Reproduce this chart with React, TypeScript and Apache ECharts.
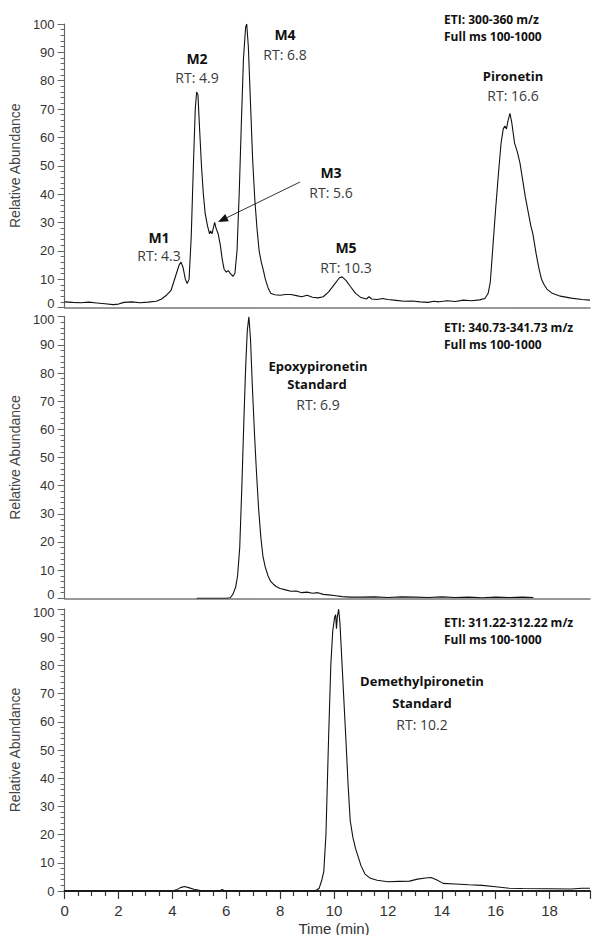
import React, { useEffect, useRef } from "react";
import * as echarts from "echarts";

// ETI 300-360 m/z trace (time in min, relative abundance)
const topTrace: [number, number][] = [
  [0, 2.0], [0.3, 1.8], [0.6, 1.7], [0.9, 1.9], [1.2, 1.6], [1.5, 1.3], [1.8, 1.0], [2.0, 1.2],
  [2.2, 1.8], [2.5, 2.0], [2.8, 1.7], [3.1, 1.9], [3.4, 2.2], [3.6, 3.0], [3.8, 4.5], [3.95, 6],
  [4.05, 9], [4.15, 12], [4.25, 15], [4.32, 16], [4.4, 14], [4.48, 10], [4.55, 8.5], [4.62, 10],
  [4.7, 25], [4.78, 50], [4.85, 70], [4.9, 76], [4.95, 75], [5.0, 65], [5.08, 50], [5.15, 40],
  [5.22, 33], [5.3, 29], [5.38, 26], [5.42, 27], [5.47, 26], [5.52, 28], [5.57, 30], [5.62, 28],
  [5.7, 26], [5.78, 22], [5.85, 17], [5.92, 13.5], [6.0, 12.5], [6.08, 13], [6.15, 12], [6.25, 11],
  [6.32, 12], [6.4, 20], [6.48, 40], [6.56, 65], [6.64, 88], [6.72, 99], [6.76, 100], [6.82, 92],
  [6.9, 72], [6.98, 52], [7.06, 38], [7.14, 28], [7.22, 20], [7.3, 16], [7.38, 13], [7.45, 10],
  [7.55, 7], [7.65, 5], [7.8, 4.5], [8.0, 4.3], [8.2, 4.6], [8.4, 4.6], [8.6, 4.2], [8.8, 3.8],
  [9.0, 4.3], [9.2, 3.6], [9.4, 3.4], [9.6, 3.8], [9.8, 5.5], [10.0, 8], [10.2, 10.5], [10.3, 10.8],
  [10.45, 9.5], [10.6, 7.5], [10.8, 5], [11.0, 3.5], [11.2, 3.0], [11.3, 3.8], [11.4, 3.0], [11.6, 2.8],
  [11.8, 3.2], [12.0, 2.8], [12.3, 2.5], [12.6, 2.2], [12.9, 2.3], [13.2, 2.0], [13.5, 1.8], [13.7, 2.2],
  [13.9, 2.0], [14.2, 2.4], [14.5, 2.1], [14.8, 2.6], [15.1, 2.4], [15.4, 2.7], [15.6, 3.2], [15.72, 5],
  [15.8, 9], [15.9, 22], [16.0, 35], [16.1, 47], [16.2, 58], [16.28, 63], [16.34, 64], [16.4, 63],
  [16.46, 66], [16.53, 68.5], [16.6, 65], [16.7, 58], [16.8, 55], [16.9, 51], [17.0, 45], [17.1, 39],
  [17.2, 34], [17.3, 29], [17.38, 26], [17.5, 19], [17.6, 14], [17.7, 10], [17.8, 8], [17.9, 6.5],
  [18.1, 5], [18.4, 4], [18.8, 3.3], [19.2, 2.8], [19.5, 2.6],
];

// ETI 340.73-341.73 m/z trace (Epoxypironetin standard)
const midTrace: [number, number][] = [
  [4.9, 0], [5.5, 0], [6.0, 0], [6.15, 0.2], [6.25, 1.5], [6.35, 4], [6.42, 8], [6.5, 18],
  [6.58, 40], [6.65, 62], [6.72, 82], [6.78, 95], [6.84, 100], [6.9, 92], [6.97, 75], [7.05, 58],
  [7.12, 45], [7.2, 32], [7.28, 22], [7.36, 15], [7.45, 11], [7.55, 8], [7.65, 6], [7.75, 5],
  [7.85, 4.2], [8.0, 3.5], [8.2, 3.0], [8.4, 2.5], [8.6, 2.6], [8.8, 2.0], [9.0, 2.2], [9.2, 1.8],
  [9.4, 2.0], [9.6, 1.4], [9.8, 1.2], [10.0, 1.0], [10.3, 0.6], [10.6, 0.4], [11.0, 0.4], [11.5, 0.5],
  [12.0, 0.3], [12.5, 0.5], [13.0, 0.4], [13.5, 0.3], [14.0, 0.5], [14.5, 0.3], [15.0, 0.4], [15.5, 0.2],
  [16.0, 0.4], [16.5, 0.3], [17.0, 0.4], [17.4, 0.3],
];

// ETI 311.22-312.22 m/z trace (Demethylpironetin standard)
const botTrace: [number, number][] = [
  [0, 0], [4.0, 0], [4.15, 0.4], [4.3, 1.2], [4.45, 1.6], [4.6, 1.2], [4.8, 0.6], [5.05, 0.2],
  [5.3, 0], [5.75, 0], [5.85, 0.5], [5.95, 0], [9.3, 0], [9.45, 1], [9.55, 4], [9.62, 7],
  [9.7, 20], [9.8, 55], [9.88, 80], [9.95, 92], [10.02, 97], [10.06, 98], [10.09, 93], [10.12, 97],
  [10.17, 100], [10.22, 95], [10.3, 80], [10.38, 65], [10.45, 52], [10.52, 38], [10.6, 25], [10.7, 19],
  [10.8, 15], [10.9, 12], [11.0, 9], [11.15, 6], [11.35, 4.5], [11.6, 3.8], [12.0, 3.3], [12.4, 3.4],
  [12.8, 3.5], [13.1, 4.2], [13.4, 4.6], [13.6, 4.8], [13.8, 4.0], [14.05, 2.7], [14.5, 2.5], [15.0, 2.2],
  [15.5, 2.0], [16.0, 1.5], [16.5, 1.0], [17.0, 0.9], [18.0, 0.8], [18.8, 0.7], [19.2, 1.0], [19.5, 1.0],
];

const xMin = 0;
const xMax = 19.5;
const yTickInterval = 10;
const xTickInterval = 2;

const scanLabels = ["ETI: 300-360 m/z", "ETI: 340.73-341.73 m/z", "ETI: 311.22-312.22 m/z"];
const scanRange = "Full ms 100-1000";

const topPeaks = [
  { name: "M1", rt: "RT: 4.3" },
  { name: "M2", rt: "RT: 4.9" },
  { name: "M3", rt: "RT: 5.6" },
  { name: "M4", rt: "RT: 6.8" },
  { name: "M5", rt: "RT: 10.3" },
  { name: "Pironetin", rt: "RT: 16.6" },
];
const midPeak = { name: ["Epoxypironetin", "Standard"], rt: "RT: 6.9" };
const botPeak = { name: ["Demethylpironetin", "Standard"], rt: "RT: 10.2" };

// layout (pixels)
const GRIDS = [
  { top: 24, height: 283.5 },
  { top: 316.7, height: 281.6 },
  { top: 609, height: 282 },
];
const LEFT = 63;
const RIGHT = 2;
const topPeakPos = [
  [159, 237, 255],
  [197, 58, 77],
  [331, 172, 192],
  [285, 34, 54],
  [346, 247, 267],
  [513, 76, 95],
];

const AXIS_FONT = "'Liberation Sans', Arial, sans-serif";
const NOTE_FONT = "'Open Sans', 'Noto Sans', sans-serif";

export default function App() {
  const ref = useRef<HTMLDivElement>(null);
  useEffect(() => {
    if (!ref.current) return;
    const chart = echarts.init(ref.current, undefined, { renderer: "svg" });

    const grids = GRIDS.map((g) => ({ left: LEFT, right: RIGHT, top: g.top, height: g.height, containLabel: false }));

    const xAxes = GRIDS.map((_, i) => ({
      type: "value",
      gridIndex: i,
      min: xMin,
      max: xMax,
      interval: xTickInterval,
      axisLine: {
        show: true,
        onZero: false,
        lineStyle: { color: i === 2 ? "#222" : "#777", width: i === 2 ? 2 : 1.5 },
      },
      axisTick: { show: i === 2, length: 8, lineStyle: { color: "#333", width: 1.2 } },
      minorTick: { show: i === 2, splitNumber: 4, length: 5, lineStyle: { color: "#333", width: 1.2 } },
      axisLabel: {
        show: i === 2,
        margin: 12,
        fontSize: 15,
        color: "#333",
        fontFamily: AXIS_FONT,
        showMaxLabel: false,
        formatter: (v: number) => (v % 2 === 0 ? String(v) : ""),
      },
      splitLine: { show: false },
    }));

    const yAxes = GRIDS.map((_, i) => ({
      type: "value",
      gridIndex: i,
      min: 0,
      max: 100,
      interval: yTickInterval,
      name: "Relative Abundance",
      nameLocation: "middle",
      nameGap: 38,
      nameTextStyle: { fontSize: 14, color: "#444", fontFamily: AXIS_FONT },
      axisLine: { show: true, lineStyle: { color: "#666", width: 1.2 } },
      axisTick: { show: true, length: 7, lineStyle: { color: "#666" } },
      minorTick: { show: true, splitNumber: 5, length: 4, lineStyle: { color: "#666" } },
      axisLabel: {
        margin: 10,
        fontSize: 13,
        color: "#333",
        fontFamily: AXIS_FONT,
        formatter: (v: number) => {
          if (v === 0 && i < 2) return "{lo|0}";
          if (v === 100 && i > 0) return "{hi|100}";
          return String(v);
        },
        rich: {
          lo: { fontSize: 13, color: "#333", fontFamily: AXIS_FONT, padding: [0, 0, 8, 0] },
          hi: { fontSize: 13, color: "#333", fontFamily: AXIS_FONT, padding: [6, 0, 0, 0] },
        },
      },
      splitLine: { show: false },
    }));

    const traces = [topTrace, midTrace, botTrace];
    const series = traces.map((d, i) => ({
      type: "line",
      xAxisIndex: i,
      yAxisIndex: i,
      data: d,
      showSymbol: false,
      symbol: "none",
      lineStyle: { color: "#111", width: 1.1 },
      silent: true,
    }));

    const bold = (text: string, x: number, y: number, size = 13) => ({
      type: "text",
      x,
      y,
      style: { text, fill: "#111", font: `bold ${size}px ${NOTE_FONT}`, align: "center", verticalAlign: "middle" },
    });
    const reg = (text: string, x: number, y: number, size = 14) => ({
      type: "text",
      x,
      y,
      style: { text, fill: "#3a3a3a", font: `${size}px ${NOTE_FONT}`, align: "center", verticalAlign: "middle" },
    });
    const eti = (text: string, y: number) => ({
      type: "text",
      x: 444,
      y,
      style: { text, fill: "#111", font: `bold 12px ${NOTE_FONT}`, align: "left", verticalAlign: "middle" },
    });

    const graphics: any[] = [];
    topPeaks.forEach((p, i) => {
      const [x, yn, yr] = topPeakPos[i];
      graphics.push(bold(p.name, x, yn, p.name.length < 3 ? 14 : 13));
      graphics.push(reg(p.rt, x, yr));
    });
    graphics.push(eti(scanLabels[0], 19), eti(scanRange, 36.5));
    graphics.push(eti(scanLabels[1], 327), eti(scanRange, 344.5));
    graphics.push(eti(scanLabels[2], 622), eti(scanRange, 639.5));

    graphics.push(bold(midPeak.name[0], 318, 366), bold(midPeak.name[1], 317, 384), reg(midPeak.rt, 318, 404));
    graphics.push(bold(botPeak.name[0], 422, 681), bold(botPeak.name[1], 422, 702.5), reg(botPeak.rt, 422, 724));

    // arrow to M3
    const tip = [218, 222];
    const tail = [300, 182];
    const dx = tail[0] - tip[0];
    const dy = tail[1] - tip[1];
    const len = Math.hypot(dx, dy);
    const ux = dx / len;
    const uy = dy / len;
    const hl = 10;
    const hw = 4;
    const bx = tip[0] + ux * hl;
    const by = tip[1] + uy * hl;
    graphics.push({
      type: "line",
      shape: { x1: tail[0], y1: tail[1], x2: bx, y2: by },
      style: { stroke: "#333", lineWidth: 1 },
    });
    graphics.push({
      type: "polygon",
      shape: {
        points: [
          [tip[0], tip[1]],
          [bx - uy * hw, by + ux * hw],
          [bx + uy * hw, by - ux * hw],
        ],
      },
      style: { fill: "#111" },
    });

    graphics.push({
      type: "text",
      x: 334,
      y: 928,
      style: { text: "Time (min)", fill: "#333", font: `15px ${AXIS_FONT}`, align: "center", verticalAlign: "middle" },
    });

    chart.setOption({
      animation: false,
      backgroundColor: "#fff",
      grid: grids,
      xAxis: xAxes,
      yAxis: yAxes,
      series,
      graphic: graphics,
    } as any);

    return () => chart.dispose();
  }, []);

  return (
    <div
      ref={ref}
      style={{ position: "fixed", left: 0, top: 0, width: 592, height: 935, background: "#fff" }}
    />
  );
}
